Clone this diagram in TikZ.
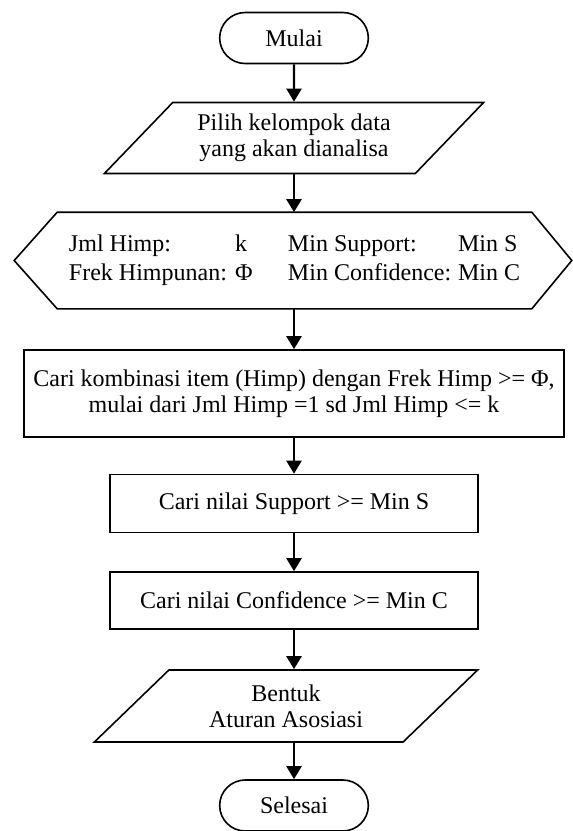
\documentclass[tikz,border=0pt]{standalone}
\usepackage{fontspec}
\setmainfont{Liberation Serif}
\usetikzlibrary{shapes.misc,shapes.geometric,arrows.meta}
\begin{document}
\begin{tikzpicture}[x=0.5pt,y=-0.5pt,line width=0.8pt,
    every node/.style={font=\fontsize{12pt}{13pt}\selectfont,align=center},
    terminal/.style={draw,rounded rectangle,minimum width=81pt,minimum height=25.5pt,text width=70pt},
    proses/.style={draw,rectangle,inner sep=2pt},
    data/.style={draw,trapezium,trapezium left angle=43,trapezium right angle=137,
        trapezium stretches=true,minimum width=190pt,minimum height=35.5pt,inner sep=1pt},
    panah/.style={-{Triangle[width=7.5pt,length=6.5pt]},line width=1.1pt}]
	\useasboundingbox (0,0) rectangle (573,831);
	\node[terminal] (mulai) at (294,38) {Mulai};
	\node[data] (pilih) at (294,138) {Pilih kelompok data\\yang akan dianalisa};
	\node[minimum width=236.5pt,minimum height=47.5pt,inner sep=0pt] (input) at (294.5,260.5)
		{\begin{tabular}{@{}p{83pt}@{}p{26.5pt}@{}p{85pt}@{}l@{}}
			Jml Himp: & k & Min Support: & Min S\\[1.5pt]
			Frek Himpunan: & Φ & Min Confidence: & Min C
		\end{tabular}};
	\draw (input.north west) -- (input.north east) -- ([xshift=20pt]input.east) -- (input.south east)
		-- (input.south west) -- ([xshift=-21.5pt]input.west) -- cycle;
	\node[proses,minimum width=270pt,minimum height=43.5pt] (kombinasi) at (294,393.5)
		{Cari kombinasi item (Himp) dengan Frek Himp >= Φ,\\mulai dari Jml Himp =1 sd Jml Himp <= k};
	\node[proses,minimum width=184pt,minimum height=29pt] (support) at (294,503.5) {Cari nilai Support >= Min S};
	\node[proses,minimum width=184pt,minimum height=28.5pt] (confidence) at (294,600.5) {Cari nilai Confidence >= Min C};
	\node[data,minimum width=192pt,minimum height=36pt] (aturan) at (286,706) {Bentuk\\Aturan Asosiasi};
	\node[terminal] (selesai) at (294,805.5) {Selesai};
	% panah alur
	\draw[panah] (mulai) -- (mulai |- pilih.north);
	\draw[panah] (pilih.south -| mulai) -- (mulai |- input.north);
	\draw[panah] (input.south -| mulai) -- (mulai |- kombinasi.north);
	\draw[panah] (kombinasi) -- (support);
	\draw[panah] (support) -- (confidence);
	\draw[panah] (confidence.south) -- (confidence.south |- aturan.north);
	\draw[panah] (confidence.south |- aturan.south) -- (confidence.south |- selesai.north);
\end{tikzpicture}
\end{document}
